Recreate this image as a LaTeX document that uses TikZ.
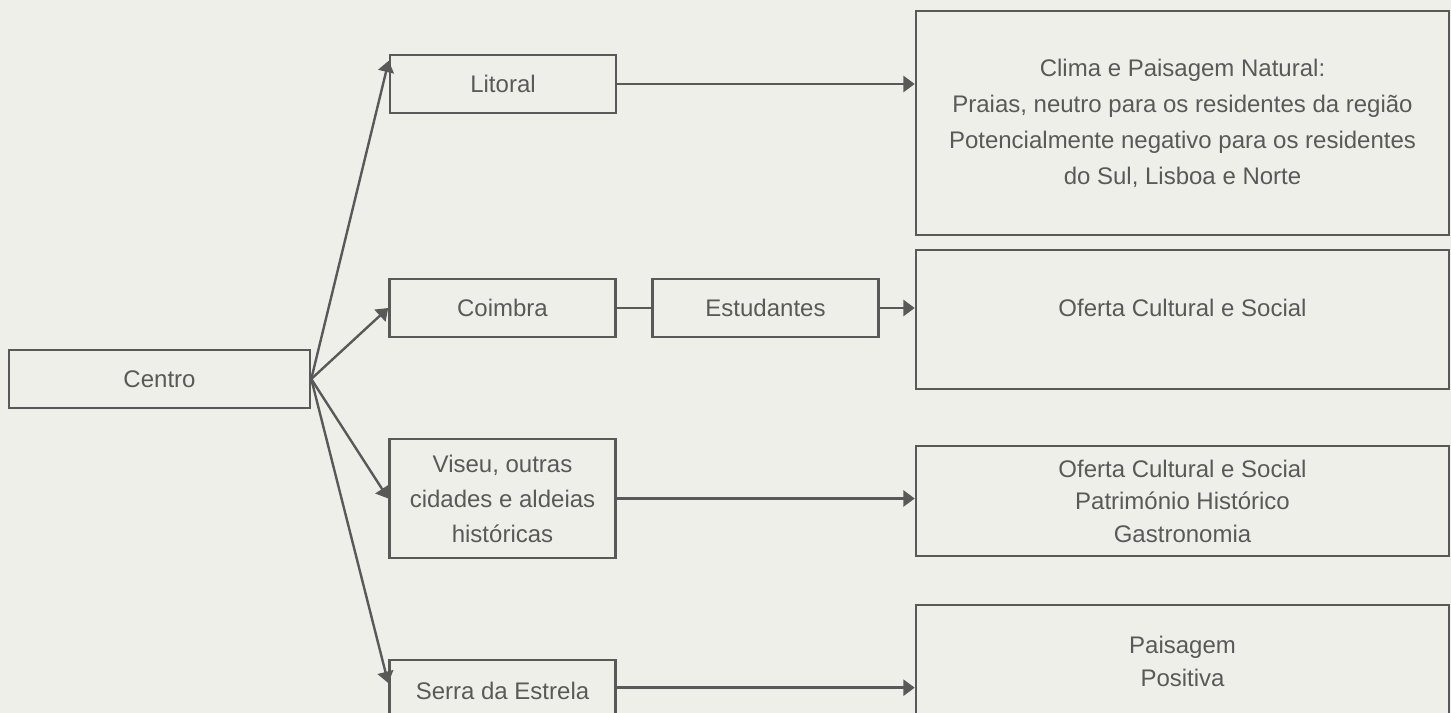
\documentclass[tikz,border=0pt]{standalone}
\usepackage{fontspec}
\setmainfont{Liberation Sans}
\usetikzlibrary{arrows.meta,calc}
\definecolor{bg}{HTML}{EFEFEA}
\definecolor{lc}{HTML}{595959}
\begin{document}
\begin{tikzpicture}[x=0.75pt,y=-0.75pt,
  box/.style={draw=lc, line width=1.9pt, inner sep=0pt, text=lc, align=center,
    font=\fontsize{18pt}{26.25pt}\selectfont},
  sbox/.style={box, minimum width=226*0.75pt, minimum height=58*0.75pt},
  bbox/.style={box, minimum width=533*0.75pt},
  txt/.style={text=lc, inner sep=0pt, align=center, font=\fontsize{18pt}{26.25pt}\selectfont},
  conn/.style={draw=lc, line width=1.8pt},
  arr/.style={conn, -{Triangle[length=8.5pt,width=12pt]}}
]
\fill[bg] (0,0) rectangle (1451,713);
\useasboundingbox (0,0) rectangle (1451,713);

\node[box, minimum width=301*0.75pt, minimum height=58*0.75pt] (centro) at (159.5,379) {Centro};
\node[sbox] (litoral) at (503,84) {Litoral};
\node[sbox] (coimbra) at (502.5,308) {Coimbra};
\node[sbox] (estud) at (765.5,308) {Estudantes};
\node[sbox, minimum height=119*0.75pt] (viseu) at (502.5,498.5) {Viseu, outras\\cidades e aldeias\\históricas};
\node[sbox, minimum height=58*0.75pt] (serra) at (502.5,689) {};
\node[txt] (serratxt) at (502.5,691) {Serra da Estrela};

\node[bbox, minimum height=224*0.75pt, font=\fontsize{18pt}{27pt}\selectfont] (clima) at (1182.5,123)
  {Clima e Paisagem Natural:\\Praias, neutro para os residentes da região\\Potencialmente negativo para os residentes\\do Sul, Lisboa e Norte};
\node[bbox, minimum height=139*0.75pt] (oferta) at (1182.5,319.5) {};
\node[txt] (ofertatxt) at (1182.5,308) {Oferta Cultural e Social};
\node[bbox, minimum height=110*0.75pt, font=\fontsize{18pt}{24.4pt}\selectfont] (patr) at (1182.5,501)
  {Oferta Cultural e Social\\Património Histórico\\Gastronomia};
\node[bbox, minimum height=113*0.75pt, font=\fontsize{18pt}{24.75pt}\selectfont] (paisag) at (1182.5,661.5)
  {Paisagem\\Positiva};

\draw[arr] (centro.east) -- ($(litoral.north west)+(0,7)$);
\draw[arr] (centro.east) -- (coimbra.west);
\draw[arr] (centro.east) -- (viseu.west);
\draw[arr] (centro.east) -- ($(serra.west)+(0,-6)$);

\draw[arr] (litoral.east) -- (litoral.east -| clima.west);
\draw[conn] (coimbra.east) -- (estud.west);
\draw[arr] (estud.east) -- (estud.east -| oferta.west);
\draw[arr] (viseu.east) -- (viseu.east -| patr.west);
\draw[arr] ([yshift=1pt]serra.east) -- ([yshift=1pt]serra.east -| paisag.west);
\end{tikzpicture}
\end{document}
